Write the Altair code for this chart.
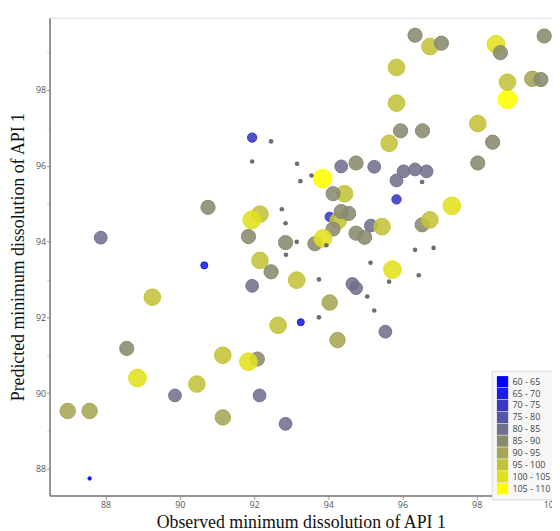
import altair as alt
import pandas as pd

# Observed (x) and predicted (y) minimum dissolution, with dissolution class
obs = [87.57, 93.26, 90.66, 91.95, 95.84, 94.04,
       87.87, 94.35, 95.24, 96.03, 96.34, 96.65, 95.84, 95.15, 91.95, 94.65, 94.75, 95.54, 89.87, 92.15, 92.85,
       86.98, 87.57, 91.16, 94.25, 94.04, 99.50,
       90.76, 92.85, 96.34, 98.52,
       96.74, 97.05, 98.64, 99.82, 99.73, 95.84, 95.84, 98.03, 95.64,
       95.95, 96.54, 98.43, 98.03, 94.75, 94.44, 94.13, 95.45, 94.27, 94.35, 94.55, 94.13, 94.75, 94.98,
       96.53, 96.74, 93.64, 92.16, 91.94, 91.85, 92.46, 93.15, 92.16, 92.65, 88.57, 89.26, 91.16, 92.09,
       91.85, 90.46, 88.86, 97.33, 95.73, 93.86, 98.83, 98.83, 93.85]
pred = [87.75, 91.87, 93.37, 96.74, 95.11, 94.65,
        94.10, 95.98, 95.97, 95.85, 95.90, 95.85, 95.61, 94.42, 92.83, 92.88, 92.77, 91.62, 89.94, 89.94, 89.19,
        89.53, 89.53, 89.36, 91.40, 92.39, 98.29,
        94.90, 93.97, 99.44, 99.20,
        99.14, 99.23, 98.98, 99.42, 98.27, 98.59, 97.65, 97.11, 96.59,
        96.92, 96.92, 96.62, 96.07, 96.07, 95.26, 95.26, 94.39, 94.55, 94.79, 94.74, 94.33, 94.22, 94.11,
        94.44, 94.57, 93.94, 94.72, 94.57, 94.13, 93.20, 92.98, 93.50, 91.79, 91.18, 92.53, 91.00, 90.90,
        90.83, 90.24, 90.40, 94.94, 93.26, 94.08, 97.75, 98.20, 95.66]
klass = ["60 - 65", "65 - 70", "65 - 70", "70 - 75", "70 - 75", "70 - 75",
         "80 - 85", "80 - 85", "80 - 85", "80 - 85", "80 - 85", "80 - 85", "80 - 85", "80 - 85", "80 - 85",
         "80 - 85", "80 - 85", "80 - 85", "80 - 85", "80 - 85", "80 - 85",
         "90 - 95", "90 - 95", "90 - 95", "90 - 95", "90 - 95", "90 - 95",
         "85 - 90", "85 - 90", "85 - 90", "100 - 105",
         "95 - 100", "85 - 90", "85 - 90", "85 - 90", "85 - 90", "95 - 100", "95 - 100", "95 - 100", "95 - 100",
         "85 - 90", "85 - 90", "85 - 90", "85 - 90", "85 - 90", "95 - 100", "85 - 90", "95 - 100", "95 - 100",
         "85 - 90", "85 - 90", "85 - 90", "85 - 90", "85 - 90",
         "85 - 90", "95 - 100", "85 - 90", "95 - 100", "100 - 105", "85 - 90", "85 - 90", "95 - 100",
         "95 - 100", "95 - 100", "85 - 90", "95 - 100", "95 - 100", "85 - 90",
         "100 - 105", "95 - 100", "100 - 105", "100 - 105", "100 - 105", "100 - 105", "105 - 110",
         "95 - 100", "105 - 110"]

# points without a dissolution class (small grey dots)
na_obs = [92.46, 91.95, 93.16, 93.25, 93.55, 96.53, 92.75, 92.85, 93.15, 93.95, 92.86, 93.75,
          95.14, 95.64, 96.34, 96.84, 96.44, 95.05, 95.24, 93.75]
na_pred = [96.64, 96.11, 96.05, 95.59, 95.74, 95.57, 94.85, 94.48, 93.99, 93.90, 93.65, 93.00,
           93.44, 92.94, 93.78, 93.83, 93.11, 92.55, 92.18, 92.00]

classes = ["60 - 65", "65 - 70", "70 - 75", "75 - 80", "80 - 85",
           "85 - 90", "90 - 95", "95 - 100", "100 - 105", "105 - 110"]
palette = ["#0000ff", "#1c1ce3", "#3939c6", "#5555aa", "#71718e",
           "#8a8a70", "#a6a655", "#c3c33a", "#e0e01e", "#ffff00"]

df = pd.DataFrame({"obs": obs, "pred": pred, "cls": klass})
df["cls_line"] = df["cls"]
df["level"] = [classes.index(c) for c in klass]
df["idx"] = range(len(df))
dna = pd.DataFrame({"obs": na_obs, "pred": na_pred})

xscale = alt.Scale(domain=[86.49, 100.03], nice=False, zero=False)
yscale = alt.Scale(domain=[87.30, 99.90], nice=False, zero=False)

serif = "Liberation Serif"
sans = "Open Sans"

minor_op = {"condition": {"test": "datum.value % 2 == 0", "value": 1}, "value": 0.45}

xaxis = alt.Axis(
    title="Observed minimum dissolution of API 1", values=list(range(88, 101, 2)),
    grid=False, labelOverlap=False, tickSize=4,
    tickColor="#999", domainColor="#777", domainWidth=1.5, labelColor="#555",
    labelFont=sans, labelFontSize=9, labelPadding=1,
    titleFont=serif, titleFontSize=18, titleFontWeight="normal", titleColor="#111", titlePadding=4)
yaxis = alt.Axis(
    title="Predicted minimum dissolution of API 1", values=list(range(88, 100)),
    labelExpr="datum.value % 2 == 0 ? datum.label : ''",
    grid=False, labelOverlap=False, tickSize=3, tickOpacity=minor_op,
    tickColor="#999", domainColor="#777", domainWidth=1.5, labelColor="#555",
    labelFont=sans, labelFontSize=9, labelPadding=1,
    titleFont=serif, titleFontSize=18, titleFontWeight="normal", titleColor="#111", titlePadding=8)

pts = alt.Chart(df).mark_point(filled=True, fillOpacity=0.88, strokeWidth=1, strokeOpacity=1, shape="circle").encode(
    x=alt.X("obs:Q", scale=xscale, axis=xaxis),
    y=alt.Y("pred:Q", scale=yscale, axis=yaxis),
    fill=alt.Fill("cls:N", scale=alt.Scale(domain=classes, range=palette),
                  legend=alt.Legend(title=None, orient="none", legendX=447, legendY=357,
                                    symbolType="square", symbolSize=130, symbolStrokeWidth=0,
                                    symbolOpacity=1, rowPadding=0,
                                    labelFont=sans, labelFontSize=9,
                                    labelColor="#444", labelOffset=4, padding=5,
                                    fillColor="#f7f7f7", strokeColor="#d8d8d8")),
    stroke=alt.Stroke("cls_line:N", scale=alt.Scale(domain=classes, range=palette), legend=None),
    size=alt.Size("level:Q", scale=alt.Scale(domain=[0, 9], range=[12, 360]), legend=None),
    order=alt.Order("idx:Q"),
)

dots = alt.Chart(dna).mark_circle(size=22, color="#6e6e6e", opacity=1).encode(
    x=alt.X("obs:Q", scale=xscale),
    y=alt.Y("pred:Q", scale=yscale),
)

chart = alt.layer(pts, dots).properties(
    width=508, height=483, autosize="none",
    padding={"left": 42, "top": 7, "right": 0, "bottom": 33},
).configure_view(stroke=None).configure(background="white")

chart.save("out.html", embed_options={"renderer": "svg", "actions": False})
